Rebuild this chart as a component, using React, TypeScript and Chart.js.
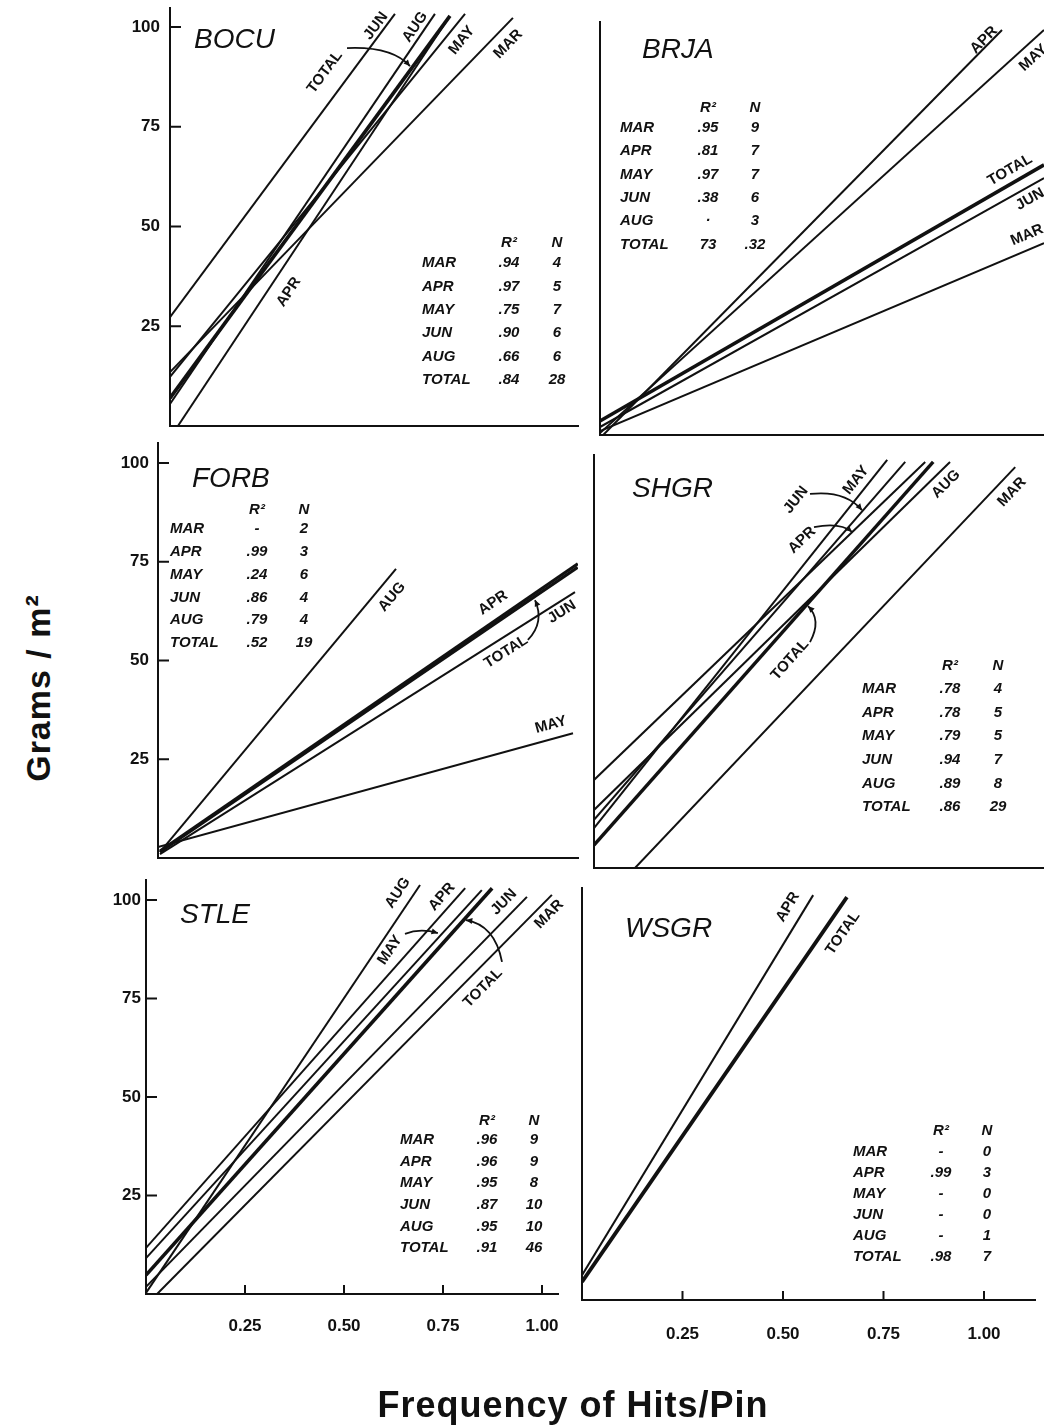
import React, { useEffect, useRef } from 'react';
import { Chart, registerables } from 'chart.js';

Chart.register(...registerables);

// ---------------- data ----------------
const MONTHS = ['MAR', 'APR', 'MAY', 'JUN', 'AUG', 'TOTAL'];
const X_TICKS = [0.25, 0.5, 0.75, 1.0];
const Y_TICKS = [25, 50, 75, 100];

type Seg = [string, number, number, number, number]; // series, x0, y0, x1, y1

const BOCU_LINES: Seg[] = [
  ['JUN', 0, 27.3, 0.568, 103.3],
  ['AUG', 0, 5.5, 0.669, 103.3],
  ['TOTAL', 0, 7.0, 0.707, 102.8],
  ['MAY', 0, 12.3, 0.745, 103.3],
  ['MAR', 0, 13.5, 0.866, 102.3],
  ['APR', 0.02, 0, 0.705, 102.5],
];
const BOCU_R2 = ['.94', '.97', '.75', '.90', '.66', '.84'];
const BOCU_N = ['4', '5', '7', '6', '6', '28'];

const BRJA_LINES: Seg[] = [
  ['APR', 0.008, 0, 1.005, 101.5],
  ['MAY', 0, 0.5, 1.11, 101.5],
  ['TOTAL', 0, 3.5, 1.11, 67.7],
  ['JUN', 0, 2.0, 1.11, 64.4],
  ['MAR', 0, 1.0, 1.11, 48.1],
];
const BRJA_R2 = ['.95', '.81', '.97', '.38', '·', '73'];
const BRJA_N = ['9', '7', '7', '6', '3', '.32'];

const FORB_LINES: Seg[] = [
  ['AUG', 0.005, 1.5, 0.601, 73.2],
  ['APR', 0.005, 1.8, 1.06, 74.5],
  ['TOTAL', 0.005, 1.5, 1.06, 73.6],
  ['JUN', 0.005, 1.0, 1.053, 67.3],
  ['MAY', 0, 2.8, 1.048, 31.6],
];
const FORB_R2 = ['-', '.99', '.24', '.86', '.79', '.52'];
const FORB_N = ['2', '3', '6', '4', '4', '19'];

const SHGR_LINES: Seg[] = [
  ['MAY', 0, 10.1, 0.733, 103.3],
  ['JUN', 0, 12.2, 0.778, 102.8],
  ['APR', 0, 22.3, 0.828, 102.8],
  ['TOTAL', 0, 5.8, 0.848, 102.8],
  ['AUG', 0, 14.7, 0.89, 102.8],
  ['MAR', 0.1025, 0, 1.053, 101.5],
];
const SHGR_R2 = ['.78', '.78', '.79', '.94', '.89', '.86'];
const SHGR_N = ['4', '5', '5', '7', '8', '29'];

const STLE_LINES: Seg[] = [
  ['AUG', 0, 0.3, 0.692, 103.8],
  ['APR', 0, 11.7, 0.806, 103.0],
  ['MAY', 0, 9.1, 0.848, 102.5],
  ['TOTAL', 0, 4.8, 0.874, 103.0],
  ['JUN', 0, 1.8, 0.962, 100.8],
  ['MAR', 0.028, 0, 1.025, 101.3],
];
const STLE_R2 = ['.96', '.96', '.95', '.87', '.95', '.91'];
const STLE_N = ['9', '9', '8', '10', '10', '46'];

const WSGR_LINES: Seg[] = [
  ['APR', 0, 6.3, 0.575, 102.5],
  ['TOTAL', 0, 4.6, 0.659, 102.0],
];
const WSGR_R2 = ['-', '.99', '-', '-', '-', '.98'];
const WSGR_N = ['0', '3', '0', '0', '1', '7'];

// line labels: text, x, y (data units), series whose slope sets the angle
type Lab = [string, number, number, string];
const BOCU_LABELS: Lab[] = [
  ['JUN', 0.52, 100.25, 'JUN'],
  ['AUG', 0.619, 100.0, 'AUG'],
  ['MAY', 0.737, 96.7, 'MAY'],
  ['MAR', 0.854, 95.7, 'MAR'],
  ['TOTAL', 0.391, 88.7, 'JUN'],
  ['APR', 0.3, 33.6, 'APR'],
];
const BRJA_LABELS: Lab[] = [
  ['APR', 0.96, 99, 'APR'],
  ['MAY', 1.083, 94.5, 'MAY'],
  ['TOTAL', 1.025, 66.4, 'TOTAL'],
  ['JUN', 1.075, 59.1, 'JUN'],
  ['MAR', 1.0675, 50.1, 'MAR'],
];
const FORB_LABELS: Lab[] = [
  ['AUG', 0.591, 66.1, 'AUG'],
  ['APR', 0.846, 64.6, 'APR'],
  ['JUN', 1.02, 62.3, 'JUN'],
  ['TOTAL', 0.879, 52.2, 'JUN'],
  ['MAY', 0.992, 33.7, 'MAY'],
];
const SHGR_LABELS: Lab[] = [
  ['MAY', 0.655, 98.2, 'MAY'],
  ['AUG', 0.88, 97.2, 'AUG'],
  ['MAR', 1.045, 95.2, 'MAR'],
  ['JUN', 0.505, 93.2, 'MAY'],
  ['APR', 0.52, 83.0, 'APR'],
  ['TOTAL', 0.49, 52.7, 'TOTAL'],
];
const STLE_LABELS: Lab[] = [
  ['AUG', 0.636, 101.8, 'AUG'],
  ['APR', 0.747, 100.8, 'APR'],
  ['MAY', 0.616, 87.3, 'AUG'],
  ['JUN', 0.904, 99.5, 'JUN'],
  ['MAR', 1.018, 96.4, 'MAR'],
  ['TOTAL', 0.851, 77.7, 'MAR'],
];
const WSGR_LABELS: Lab[] = [
  ['APR', 0.512, 99.5, 'APR'],
  ['TOTAL', 0.649, 92.9, 'TOTAL'],
];

// pointer arrows: start, control, end (data units)
type Arr = [number, number, number, number, number, number];
const BOCU_ARROWS: Arr[] = [[0.447, 94.7, 0.56, 95.2, 0.606, 90.2]];
const BRJA_ARROWS: Arr[] = [];
const FORB_ARROWS: Arr[] = [[0.934, 55.2, 0.977, 59.7, 0.952, 65.3]];
const SHGR_ARROWS: Arr[] = [
  [0.54, 94.7, 0.6275, 95.7, 0.67, 90.6],
  [0.55, 86.3, 0.615, 87.6, 0.645, 85.1],
  [0.54, 57.2, 0.57, 62.8, 0.535, 66.3],
];
const STLE_ARROWS: Arr[] = [
  [0.654, 91.4, 0.692, 92.9, 0.737, 91.6],
  [0.899, 84.3, 0.881, 93.7, 0.808, 94.9],
];
const WSGR_ARROWS: Arr[] = [];

// ---------------- layout / style ----------------
const INK = '#111';
const FONT = '"Liberation Sans", Arial, Helvetica, sans-serif';
const P = 40;
const WY = 60;
const HX = 50;

const PANELS = [
  {
    title: 'BOCU', lines: BOCU_LINES, r2: BOCU_R2, n: BOCU_N, labels: BOCU_LABELS, arrows: BOCU_ARROWS,
    area: { l: 170, t: 8, r: 578, b: 426 }, sx: 396, sy: 3.99, thick: ['TOTAL'], thickW: 3.6,
    yLabels: true, xLabels: false, yPad: 10, xPad: 22, titleAt: [194, 48],
    table: { nameX: 422, r2X: 509, nX: 557, headY: 243, rowY: 263, dy: 23.4 },
  },
  {
    title: 'BRJA', lines: BRJA_LINES, r2: BRJA_R2, n: BRJA_N, labels: BRJA_LABELS, arrows: BRJA_ARROWS,
    area: { l: 600, t: 22, r: 1044, b: 435 }, sx: 400, sy: 3.99, thick: ['TOTAL'], thickW: 3.6,
    yLabels: false, xLabels: false, yPad: 10, xPad: 22, titleAt: [642, 58],
    table: { nameX: 620, r2X: 708, nX: 755, headY: 108, rowY: 128, dy: 23.3 },
  },
  {
    title: 'FORB', lines: FORB_LINES, r2: FORB_R2, n: FORB_N, labels: FORB_LABELS, arrows: FORB_ARROWS,
    area: { l: 158, t: 443, r: 578, b: 858 }, sx: 396, sy: 3.95, thick: ['APR', 'TOTAL'], thickW: 3,
    yLabels: true, xLabels: false, yPad: 9, xPad: 22, titleAt: [192, 487],
    table: { nameX: 170, r2X: 257, nX: 304, headY: 510, rowY: 529, dy: 22.8 },
  },
  {
    title: 'SHGR', lines: SHGR_LINES, r2: SHGR_R2, n: SHGR_N, labels: SHGR_LABELS, arrows: SHGR_ARROWS,
    area: { l: 594, t: 455, r: 1044, b: 868 }, sx: 400, sy: 3.95, thick: ['TOTAL'], thickW: 3.4,
    yLabels: false, xLabels: false, yPad: 10, xPad: 22, titleAt: [632, 497],
    table: { nameX: 862, r2X: 950, nX: 998, headY: 666, rowY: 689, dy: 23.6 },
  },
  {
    title: 'STLE', lines: STLE_LINES, r2: STLE_R2, n: STLE_N, labels: STLE_LABELS, arrows: STLE_ARROWS,
    area: { l: 146, t: 880, r: 558, b: 1294 }, sx: 396, sy: 3.94, thick: ['TOTAL'], thickW: 3.6,
    yLabels: true, xLabels: true, yPad: 5, xPad: 22, titleAt: [180, 923],
    table: { nameX: 400, r2X: 487, nX: 534, headY: 1121, rowY: 1140, dy: 21.6 },
  },
  {
    title: 'WSGR', lines: WSGR_LINES, r2: WSGR_R2, n: WSGR_N, labels: WSGR_LABELS, arrows: WSGR_ARROWS,
    area: { l: 582, t: 888, r: 1035, b: 1300 }, sx: 402, sy: 3.95, thick: ['TOTAL'], thickW: 3.8,
    yLabels: false, xLabels: true, yPad: 10, xPad: 24, titleAt: [625, 937],
    table: { nameX: 853, r2X: 941, nX: 987, headY: 1131, rowY: 1152, dy: 21 },
  },
];

type PanelCfg = (typeof PANELS)[number];

function makeAnnot(cfg: PanelCfg, off: { x: number; y: number }) {
  return {
    id: 'annot' + cfg.title,
    afterDraw(chart: any) {
      const ctx: CanvasRenderingContext2D = chart.ctx;
      const xs = chart.scales.x;
      const ys = chart.scales.y;
      const ca = chart.chartArea;
      const X = (v: number) => xs.getPixelForValue(v);
      const Y = (v: number) => ys.getPixelForValue(v);
      ctx.save();
      ctx.strokeStyle = INK;
      ctx.fillStyle = INK;
      ctx.lineWidth = 2;
      // inward tick marks
      if (cfg.yLabels) {
        for (const v of Y_TICKS) {
          const y = Y(v);
          ctx.beginPath();
          ctx.moveTo(ca.left, y);
          ctx.lineTo(ca.left + 11, y);
          ctx.stroke();
        }
      }
      if (cfg.xLabels) {
        for (const v of X_TICKS) {
          const x = X(v);
          ctx.beginPath();
          ctx.moveTo(x, ca.bottom);
          ctx.lineTo(x, ca.bottom - 9);
          ctx.stroke();
        }
      }
      // panel title
      ctx.font = `italic 28px ${FONT}`;
      ctx.textAlign = 'left';
      ctx.textBaseline = 'alphabetic';
      ctx.fillText(cfg.title, cfg.titleAt[0] - off.x, cfg.titleAt[1] - off.y);
      // line labels
      ctx.font = `bold 15px ${FONT}`;
      ctx.textAlign = 'center';
      ctx.textBaseline = 'middle';
      for (const [text, lx, ly, refName] of cfg.labels) {
        const seg = cfg.lines.find((s) => s[0] === refName) as Seg;
        const ang = Math.atan2(Y(seg[4]) - Y(seg[2]), X(seg[3]) - X(seg[1]));
        ctx.save();
        ctx.translate(X(lx), Y(ly));
        ctx.rotate(ang);
        ctx.fillText(text, 0, 0);
        ctx.restore();
      }
      // arrows
      ctx.lineWidth = 1.8;
      for (const [x0, y0, cx, cy, x1, y1] of cfg.arrows) {
        const p0 = [X(x0), Y(y0)];
        const c = [X(cx), Y(cy)];
        const p1 = [X(x1), Y(y1)];
        ctx.beginPath();
        ctx.moveTo(p0[0], p0[1]);
        ctx.quadraticCurveTo(c[0], c[1], p1[0], p1[1]);
        ctx.stroke();
        const a = Math.atan2(p1[1] - c[1], p1[0] - c[0]);
        const L = 7;
        const w = 0.45;
        ctx.beginPath();
        ctx.moveTo(p1[0], p1[1]);
        ctx.lineTo(p1[0] - L * Math.cos(a - w), p1[1] - L * Math.sin(a - w));
        ctx.lineTo(p1[0] - L * Math.cos(a + w), p1[1] - L * Math.sin(a + w));
        ctx.closePath();
        ctx.fill();
      }
      // statistics table
      const t = cfg.table;
      ctx.font = `italic bold 15px ${FONT}`;
      ctx.textBaseline = 'middle';
      ctx.textAlign = 'center';
      ctx.fillText('R²', t.r2X - off.x, t.headY - off.y);
      ctx.fillText('N', t.nX - off.x, t.headY - off.y);
      MONTHS.forEach((m, i) => {
        const y = t.rowY + i * t.dy - off.y;
        ctx.textAlign = 'left';
        ctx.fillText(m, t.nameX - off.x, y);
        ctx.textAlign = 'center';
        ctx.fillText(cfg.r2[i], t.r2X - off.x, y);
        ctx.fillText(cfg.n[i], t.nX - off.x, y);
      });
      ctx.restore();
    },
  };
}

function Panel({ cfg }: { cfg: PanelCfg }) {
  const ref = useRef<HTMLCanvasElement | null>(null);
  const { area } = cfg;
  const left = area.l - P - WY;
  const top = area.t - P;
  const width = area.r - area.l + 2 * P + WY;
  const height = area.b - area.t + 2 * P + HX;

  useEffect(() => {
    if (!ref.current) return;
    const xMax = (area.r - area.l) / cfg.sx;
    const yMax = (area.b - area.t) / cfg.sy;
    const tickFont = { family: FONT, size: 17, weight: 'bold' as const };
    const chart = new Chart(ref.current, {
      type: 'scatter',
      data: {
        datasets: cfg.lines.map((s) => ({
          label: s[0],
          data: [
            { x: s[1], y: s[2] },
            { x: s[3], y: s[4] },
          ],
          showLine: true,
          borderColor: INK,
          backgroundColor: INK,
          borderWidth: cfg.thick.includes(s[0]) ? cfg.thickW : 2,
          pointRadius: 0,
          pointHoverRadius: 0,
          tension: 0,
          fill: false,
        })),
      },
      options: {
        responsive: false,
        maintainAspectRatio: false,
        animation: false,
        events: [],
        layout: { padding: P },
        plugins: { legend: { display: false }, tooltip: { enabled: false } },
        scales: {
          x: {
            type: 'linear',
            min: 0,
            max: xMax,
            border: { display: true, color: INK, width: 2 },
            grid: { display: false, drawTicks: false },
            ticks: {
              display: cfg.xLabels,
              autoSkip: false,
              maxRotation: 0,
              padding: cfg.xPad,
              color: INK,
              font: tickFont,
              callback: (v: any) => Number(v).toFixed(2),
            },
            afterBuildTicks: (ax: any) => {
              ax.ticks = X_TICKS.map((v) => ({ value: v }));
            },
            afterFit: (ax: any) => {
              ax.height = HX;
            },
          },
          y: {
            type: 'linear',
            min: 0,
            max: yMax,
            border: { display: true, color: INK, width: 2 },
            grid: { display: false, drawTicks: false },
            ticks: {
              display: cfg.yLabels,
              autoSkip: false,
              padding: cfg.yPad,
              color: INK,
              font: tickFont,
              callback: (v: any) => String(Math.round(Number(v))),
            },
            afterBuildTicks: (ax: any) => {
              ax.ticks = Y_TICKS.map((v) => ({ value: v }));
            },
            afterFit: (ax: any) => {
              ax.width = WY;
            },
          },
        },
      },
      plugins: [makeAnnot(cfg, { x: left, y: top })],
    } as any);
    return () => chart.destroy();
  }, []);

  return (
    <canvas
      ref={ref}
      width={width}
      height={height}
      style={{ position: 'absolute', left, top, width, height }}
    />
  );
}

export default function App() {
  return (
    <div
      style={{
        position: 'absolute',
        left: 0,
        top: 0,
        width: 1044,
        height: 1427,
        overflow: 'hidden',
        background: '#fff',
        fontFamily: FONT,
      }}
    >
      {PANELS.map((p) => (
        <Panel key={p.title} cfg={p} />
      ))}
      <div
        style={{
          position: 'absolute',
          left: 38,
          top: 688,
          transform: 'translate(-50%, -50%) rotate(-90deg)',
          whiteSpace: 'nowrap',
          font: `bold 34px ${FONT}`,
          letterSpacing: '1px',
          color: INK,
        }}
      >
        Grams / m²
      </div>
      <div
        style={{
          position: 'absolute',
          left: 573,
          top: 1405,
          transform: 'translate(-50%, -50%)',
          whiteSpace: 'nowrap',
          font: `bold 36px ${FONT}`,
          letterSpacing: '1px',
          color: INK,
        }}
      >
        Frequency of Hits/Pin
      </div>
    </div>
  );
}
